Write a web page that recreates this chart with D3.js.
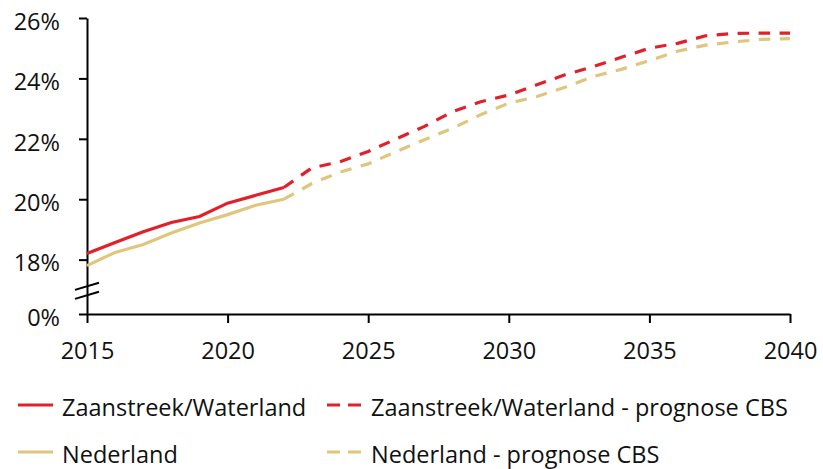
<!DOCTYPE html>
<html>
<head>
<meta charset="utf-8">
<script src="https://cdn.jsdelivr.net/npm/d3@7"></script>
<style>
  body { margin: 0; background: #fff; }
  svg { display: block; }
  .axis path, .axis line { stroke: #000; stroke-width: 2px; }
  .axis text { font-family: "Open Sans", sans-serif; font-size: 23.5px; fill: #111; }
  .legend text { font-family: "Open Sans", sans-serif; font-size: 23.5px; fill: #111; }
</style>
</head>
<body>
<div id="chart"></div>
<script>
// data
let histYears = [2015, 2016, 2017, 2018, 2019, 2020, 2021, 2022];
let progYears = [2022, 2023, 2024, 2025, 2026, 2027, 2028, 2029, 2030, 2031,
  2032, 2033, 2034, 2035, 2036, 2037, 2038, 2039, 2040];

let zaanHist = [18.2, 18.57, 18.92, 19.23, 19.43, 19.87, 20.13, 20.39];
let zaanProg = [20.39, 21.04, 21.24, 21.58, 22.0, 22.41, 22.9, 23.23, 23.45, 23.79,
  24.12, 24.39, 24.7, 25.0, 25.16, 25.41, 25.49, 25.5, 25.5];

let nlHist = [17.8, 18.24, 18.5, 18.88, 19.21, 19.49, 19.8, 20.0];
let nlProg = [20.0, 20.52, 20.9, 21.17, 21.58, 21.97, 22.35, 22.8, 23.18, 23.4,
  23.71, 24.06, 24.3, 24.59, 24.9, 25.1, 25.21, 25.29, 25.32];

let xTicks = [2015, 2020, 2025, 2030, 2035, 2040];
let yTicks = [0, 18, 20, 22, 24, 26];

let seriesNames = [
  "Zaanstreek/Waterland",
  "Zaanstreek/Waterland - prognose CBS",
  "Nederland",
  "Nederland - prognose CBS",
];

let red = "#e2202a";
let tan = "#dfc67c";

let width = 823, height = 469;

let svg = d3.select("#chart").append("svg")
  .attr("width", width)
  .attr("height", height);

// scales (broken y axis: everything below the break sits on the 0% line)
let x = d3.scaleLinear().domain([2015, 2040]).range([87, 790]);
let y = d3.scaleLinear().domain([0, 16.2, 26]).range([314, 314, 18]);

// axes
let yAxis = d3.axisLeft(y)
  .tickValues(yTicks)
  .tickFormat(d => d + "%")
  .tickSize(8)
  .tickSizeOuter(0)
  .tickPadding(19);

let xAxis = d3.axisBottom(x)
  .tickValues(xTicks)
  .tickFormat(d3.format("d"))
  .tickSize(9)
  .tickSizeOuter(0)
  .tickPadding(19);

svg.append("g")
  .attr("class", "y-axis axis")
  .attr("transform", `translate(${x(2015)},0)`)
  .call(yAxis)
  .call(g => g.selectAll("text").attr("dy", "0.48em"));

svg.append("g")
  .attr("class", "x-axis axis")
  .attr("transform", `translate(0,${y(0)})`)
  .call(xAxis);

// axis break marks
let breakMid = (y(18) + y(0)) / 2 + 4;
[-4.5, 4.5].forEach(off => {
  svg.append("line")
    .attr("x1", x(2015) - 12).attr("y1", breakMid + off + 3.6)
    .attr("x2", x(2015) + 12).attr("y2", breakMid + off - 3.6)
    .attr("stroke", "#000")
    .attr("stroke-width", 2);
});

// lines
let line = d3.line()
  .x(d => x(d[0]))
  .y(d => y(d[1]));

let series = [
  { years: histYears, values: nlHist, color: tan, dash: null },
  { years: progYears, values: nlProg, color: tan, dash: "11.5,9.5" },
  { years: histYears, values: zaanHist, color: red, dash: null },
  { years: progYears, values: zaanProg, color: red, dash: "11.5,9.5" },
];

series.forEach(s => {
  svg.append("path")
    .datum(s.years.map((yr, i) => [yr, s.values[i]]))
    .attr("fill", "none")
    .attr("stroke", s.color)
    .attr("stroke-width", 3.2)
    .attr("stroke-dasharray", s.dash)
    .attr("d", line);
});

// legend
let legendItems = [
  { name: seriesNames[0], color: red, dash: null, x: 18, y: 405 },
  { name: seriesNames[1], color: red, dash: "13,8", x: 327, y: 405 },
  { name: seriesNames[2], color: tan, dash: null, x: 18, y: 452 },
  { name: seriesNames[3], color: tan, dash: "13,8", x: 327, y: 452 },
];

let legend = svg.append("g").attr("class", "legend");

legendItems.forEach(d => {
  let g = legend.append("g").attr("transform", `translate(${d.x},${d.y})`);
  g.append("line")
    .attr("x1", 0).attr("x2", 35)
    .attr("stroke", d.color)
    .attr("stroke-width", 3.2)
    .attr("stroke-dasharray", d.dash);
  g.append("text")
    .attr("x", 44)
    .attr("y", 11)
    .text(d.name);
});
</script>
</body>
</html>
